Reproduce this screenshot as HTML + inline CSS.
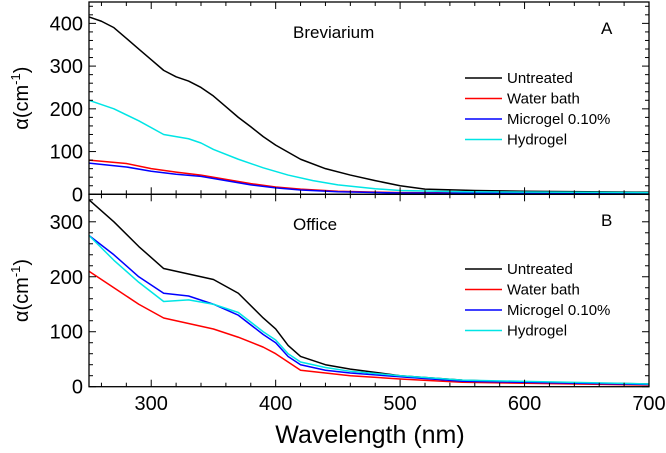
<!DOCTYPE html>
<html><head><meta charset="utf-8"><style>
body{margin:0;background:#fff;}
svg text{font-family:"Liberation Sans",Arial,sans-serif;fill:#000;}
</style></head><body>
<svg id="chart" width="666" height="448" xmlns="http://www.w3.org/2000/svg"></svg>
<script>
const wlTicks=[300,400,500,600,700];
const topYTicks=[0,100,200,300,400];
const botYTicks=[0,100,200,300];
const seriesNames=["Untreated","Water bath","Microgel 0.10%","Hydrogel"];
const seriesColors=["#000000","#ff0000","#0000ff","#00e5e5"];
const topUntreatedX=[250,260,270,280,290,300,310,320,330,340,350,360,370,380,390,400,420,440,460,480,500,520,560,600,700];
const topUntreatedY=[415,405,390,365,340,315,290,275,265,250,230,205,180,158,135,115,82,60,45,32,20,12,9,7,5];
const topWaterX=[250,280,300,320,340,360,380,400,420,450,500,700];
const topWaterY=[80,72,60,52,45,35,25,17,12,7,4,2];
const topMicroX=[250,280,300,320,340,360,380,400,420,450,500,700];
const topMicroY=[73,64,54,47,42,32,22,15,10,6,3,2];
const topHydroX=[250,270,290,310,330,340,350,370,390,410,430,450,480,500,550,700];
const topHydroY=[220,200,172,140,130,120,105,82,62,45,32,22,13,9,6,4];
const botUntreatedX=[250,270,290,310,330,350,370,390,400,410,420,440,460,500,550,600,700];
const botUntreatedY=[340,300,255,215,205,195,170,125,105,75,55,40,32,20,12,8,5];
const botWaterX=[250,270,290,310,330,350,370,390,400,410,420,440,460,500,550,700];
const botWaterY=[210,180,150,125,115,105,90,72,60,45,30,25,20,14,8,3];
const botMicroX=[250,270,290,310,330,350,370,390,400,410,420,440,460,500,550,700];
const botMicroY=[275,240,200,170,165,150,130,95,80,55,40,30,25,18,10,4];
const botHydroX=[250,270,290,310,330,350,370,390,400,410,420,440,460,500,550,700];
const botHydroY=[275,230,190,155,158,150,135,100,85,60,45,35,28,20,12,5];

const NS="http://www.w3.org/2000/svg";
const svg=document.getElementById('chart');
const L=89,R=649;
const xs=v=>L+(v-250)/450*(R-L);
function mk(t,a){const e=document.createElementNS(NS,t);for(const k in a)e.setAttribute(k,a[k]);svg.appendChild(e);return e;}
function panel(top,bot,ymax,yticks,minorStep,series,label,letter,legY,name){
  const ys=v=>bot-v/ymax*(bot-top);
  series.forEach((s,i)=>{
    const p=mk('polyline',{points:s[0].map((x,j)=>xs(x)+','+ys(s[1][j])).join(' '),fill:'none',stroke:seriesColors[i],'stroke-width':1.5,'stroke-linejoin':'round'});
    
    
  });
  const f=mk('rect',{x:L,y:top,width:R-L,height:bot-top,fill:'none',stroke:'#000','stroke-width':1.3});
  
  
  for(let v=0;v<=ymax;v+=minorStep){
    const major=yticks.includes(v);const len=major?7:4;
    mk('line',{x1:L,x2:L+len,y1:ys(v),y2:ys(v),stroke:'#000'});
    mk('line',{x1:R,x2:R-len,y1:ys(v),y2:ys(v),stroke:'#000'});
  }
  yticks.forEach(v=>{
    const t=mk('text',{x:L-6,y:ys(v)+7,'text-anchor':'end','font-size':20});
    t.textContent=v;
    
    
  });
  for(let v=260;v<=700;v+=20){
    const major=wlTicks.includes(v);const len=major?7:4;
    mk('line',{x1:xs(v),x2:xs(v),y1:bot,y2:bot-len,stroke:'#000'});
    mk('line',{x1:xs(v),x2:xs(v),y1:top,y2:top+len,stroke:'#000'});
  }
  const yt=mk('text',{x:0,y:0,'font-size':20,'text-anchor':'middle',transform:`translate(28,${(top+bot)/2}) rotate(-90)`});
  yt.innerHTML='α(cm<tspan font-size="13" dy="-8">-1</tspan><tspan dy="8">)</tspan>';
  
  
  const lb=mk('text',{x:label[1],y:label[2],'font-size':17});lb.textContent=label[0];
  
  
  const lt=mk('text',{x:601,y:label[2]-4,'font-size':17});lt.textContent=letter;
  
  
  seriesNames.forEach((n,i)=>{
    const y=legY+i*20.5;
    const ll=mk('line',{x1:465,x2:502,y1:y,y2:y,stroke:seriesColors[i],'stroke-width':1.5});
    
    
    const tt=mk('text',{x:507,y:y+5,'font-size':15});tt.textContent=n;
    
    
  });
}
panel(2,194.3,450,topYTicks,20,[[topUntreatedX,topUntreatedY],[topWaterX,topWaterY],[topMicroX,topMicroY],[topHydroX,topHydroY]],["Breviarium",293,38],"A",78,'top-panel');
panel(194.3,386.7,350,botYTicks,20,[[botUntreatedX,botUntreatedY],[botWaterX,botWaterY],[botMicroX,botMicroY],[botHydroX,botHydroY]],["Office",293,230],"B",269,'bottom-panel');
wlTicks.forEach(v=>{
  const t=mk('text',{x:xs(v),y:410,'text-anchor':'middle','font-size':20});t.textContent=v;
  
  
});
const xt=mk('text',{x:370,y:443,'text-anchor':'middle','font-size':25});xt.textContent='Wavelength (nm)';


</script>
</body></html>
